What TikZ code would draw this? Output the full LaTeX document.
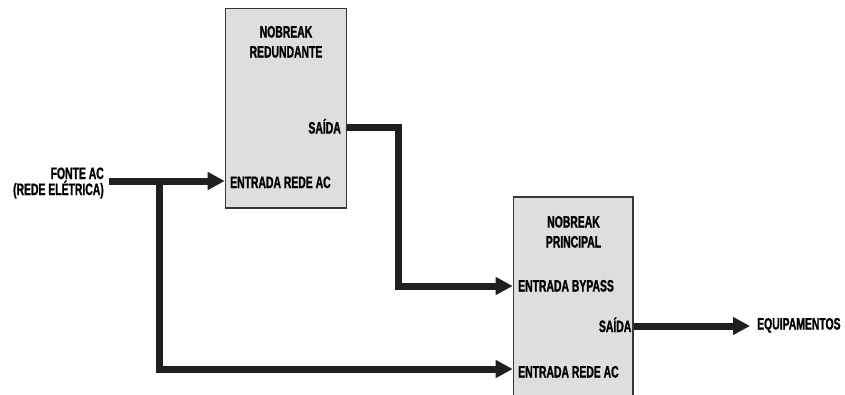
\documentclass[tikz,border=0pt]{standalone}
\usepackage{fontspec}
\setmainfont{Liberation Sans}[FakeStretch=0.63, BoldFeatures={FakeBold=1.2}]
\usepackage{tikz}
\usetikzlibrary{arrows.meta}
\definecolor{boxgray}{RGB}{221, 222, 223}
\definecolor{edgegray}{RGB}{55, 55, 55}
\definecolor{wire}{RGB}{33, 30, 31}

\begin{document}
\begin{tikzpicture}[x=1pt, y=-1pt,
    lbl/.style={font=\fontsize{16.5}{20}\selectfont\bfseries, inner sep=0pt},
    ups/.style={draw=edgegray, fill=boxgray, line width=1.6pt, inner sep=0pt},
    feed/.style={draw=wire, line width=7pt, line join=miter},
    tip/.style={-{Triangle[length=17pt, width=17pt]}}]
  \useasboundingbox (0,0) rectangle (845,394);
  \clip (0,0) rectangle (845,394);
  % nobreaks
  \node (red) at (286,108.25) [ups, minimum width=121pt, minimum height=199.5pt] {};
  \node (pri) at (573.25,300) [ups, minimum width=119.5pt, minimum height=206pt] {};
  % labels
  \node (redT) at (286,57.5) [lbl, anchor=base, align=center] {NOBREAK\\REDUNDANTE};
  \node (redOut) at (341,133.5) [lbl, anchor=base east] {SAÍDA};
  \node (redIn) at (230,188) [lbl, anchor=base west] {ENTRADA REDE AC};
  \node (priT) at (573.5,247.5) [lbl, anchor=base, align=center] {NOBREAK\\PRINCIPAL};
  \node (priBp) at (518,291.5) [lbl, anchor=base west] {ENTRADA BYPASS};
  \node (priOut) at (631.5,332) [lbl, anchor=base east] {SAÍDA};
  \node (priIn) at (518,377.5) [lbl, anchor=base west] {ENTRADA REDE AC};
  \node (fonte) at (104,195) [lbl, anchor=base east, align=right,
    font=\fontsize{16.5}{16}\selectfont\bfseries] {FONTE AC\\(REDE ELÉTRICA)};
  \node (load) at (757,329.5) [lbl, anchor=base west] {EQUIPAMENTOS};
  % ports
  \coordinate (mains) at (109,181);
  \coordinate (split) at (159,181);
  \coordinate (bend) at (398,127);
  \coordinate (redAC) at (red.west |- mains);
  \coordinate (redS) at (red.east |- bend);
  \coordinate (priBP) at (pri.west |- 0,286);
  \coordinate (priAC) at (pri.west |- 0,369);
  \coordinate (priS) at (pri.east |- 0,326);
  \coordinate (loadTip) at (750,326);
  % wires
  \draw[feed, tip] (mains) -- (redAC);
  \draw[feed, tip] (split) |- (priAC);
  \draw[feed, tip] (redS) -- (bend) |- (priBP);
  \draw[feed, tip] (priS) -- (loadTip);
\end{tikzpicture}
\end{document}
